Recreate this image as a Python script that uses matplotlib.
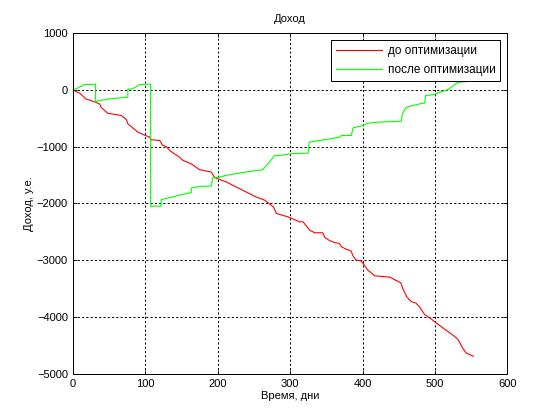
"""Доход до/после оптимизации — MATLAB-style line chart"""
import matplotlib
matplotlib.use('Agg')
import matplotlib.pyplot as plt

plt.rcParams['font.family'] = ['Liberation Sans', 'DejaVu Sans']
plt.rcParams['font.size'] = 8

# до оптимизации (red)
days_before = [0, 10, 18, 28, 37, 39, 48, 67, 74, 76, 90, 100, 106, 108, 120, 124, 129, 134,
               147, 152, 163, 175, 191, 196, 212, 230, 253, 265, 277, 281, 297, 313, 318,
               327, 334, 345, 348, 355, 361, 368, 371, 378, 384, 387, 391, 398, 403, 407,
               417, 438, 444, 453, 456, 461, 467, 474, 479, 486, 495, 502, 513, 522, 527,
               532, 535, 538, 543, 553]
income_before = [0, -60, -158, -200, -246, -305, -410, -450, -520, -596, -744, -800, -831,
                 -877, -889, -977, -995, -1070, -1182, -1240, -1298, -1404, -1445, -1544,
                 -1621, -1737, -1884, -1942, -2060, -2175, -2235, -2323, -2323, -2470,
                 -2516, -2516, -2598, -2657, -2686, -2704, -2762, -2809, -2833, -2926,
                 -2995, -3012, -3094, -3170, -3275, -3298, -3340, -3398, -3510, -3640,
                 -3726, -3756, -3826, -3961, -4035, -4105, -4211, -4293, -4340, -4398,
                 -4468, -4544, -4632, -4691]

# после оптимизации (green)
days_after = [0, 8, 16, 30, 31.5, 31.5, 35, 45, 55, 76, 76, 82, 92, 100, 107.5, 107.5, 122,
              122, 134, 147, 161, 163.5, 163.5, 175, 191, 193.5, 200, 212, 239.5, 262.5,
              274, 279, 286, 302, 325, 326.5, 335, 355, 368, 371, 384.5, 387, 400, 407,
              419, 453.6, 455, 459, 463, 479, 486, 487, 499, 506, 518, 525, 532, 545, 555]
income_after = [0, 40, 93, 100, 100, -217, -190, -170, -150, -130, 17, 17, 93, 100, 100,
                -2047, -2047, -1930, -1895, -1854, -1814, -1814, -1727, -1700, -1693, -1544,
                -1544, -1504, -1445, -1404, -1230, -1153, -1153, -1123, -1112, -919, -902,
                -862, -833, -802, -802, -667, -628, -587, -569, -551, -421, -334, -293,
                -246, -228, -100, -82, -42, 5, 75, 133, 150, 180]

fig = plt.figure(figsize=(5.6, 4.2), dpi=100)
ax = fig.add_axes([0.13, 0.11, 0.776, 0.811])

ax.plot(days_before, income_before, color='#ff0000', lw=0.8, label='до оптимизации')
ax.plot(days_after, income_after, color='#00ff00', lw=0.8, label='после оптимизации')

ax.set_xlim(0, 600)
ax.set_ylim(-5000, 1000)
ax.set_xticks(range(0, 601, 100))
ax.set_yticks(range(-5000, 1001, 1000))
ax.grid(True, color='black', linestyle=(0, (2.2, 2.2)), linewidth=0.7)
ax.tick_params(direction='in', length=3, width=0.6, top=True, right=True, labelsize=8)
for s in ax.spines.values():
    s.set_linewidth(0.7)

ax.set_title('Доход', fontsize=8, pad=8)
ax.set_xlabel('Время, дни', fontsize=8, labelpad=2)
ax.set_ylabel('Доход, у.е.', fontsize=8, labelpad=2)

leg = ax.legend(loc='upper right', fancybox=False, framealpha=1, edgecolor='black',
                borderaxespad=0.6, handlelength=3.9, handletextpad=0.5, labelspacing=0.6,
                fontsize=8.5)
leg.get_frame().set_linewidth(0.7)
leg.set_zorder(5)

fig.savefig('out.png', dpi=100)
